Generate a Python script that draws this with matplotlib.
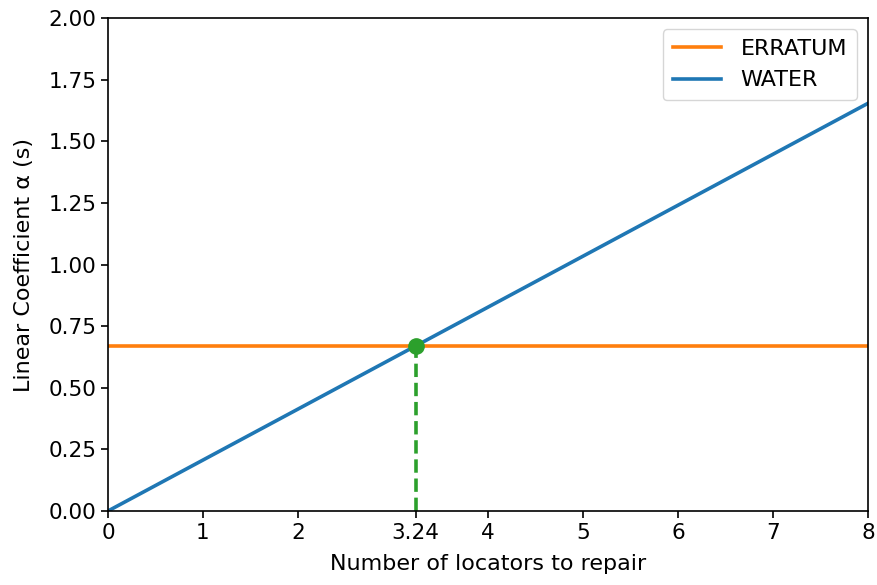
import numpy as np
import matplotlib.pyplot as plt

# values
erratum_alpha = 0.67
water_slope = 0.2068
n_locators = [0, 8]
cross_point = 3.24
x_ticks = [0, 1, 2, 3.24, 4, 5, 6, 7, 8]
x_tick_labels = ["0", "1", "2", "3.24", "4", "5", "6", "7", "8"]
y_ticks = [0.0, 0.25, 0.5, 0.75, 1.0, 1.25, 1.5, 1.75, 2.0]

fig, ax = plt.subplots(figsize=(8.78, 5.85), dpi=100)
fig.subplots_adjust(left=0.123, right=0.9886, top=0.969, bottom=0.1265)

x = np.array(n_locators, dtype=float)
ax.plot(x, [erratum_alpha] * len(x), color="tab:orange", lw=2.6, label="ERRATUM")
ax.plot(x, water_slope * x, color="tab:blue", lw=2.6, label="WATER")
ax.plot([cross_point, cross_point], [0, erratum_alpha], color="tab:green", lw=2.6, ls="--")
ax.plot(cross_point, erratum_alpha, "o", color="tab:green", ms=11)

ax.set_xlim(0, 8)
ax.set_ylim(0, 2)
ax.set_xticks(x_ticks)
ax.set_xticklabels(x_tick_labels)
ax.set_yticks(y_ticks)
ax.set_yticklabels(["%.2f" % v for v in y_ticks])
ax.tick_params(labelsize=15.5, length=5, width=1.2)
for s in ax.spines.values():
    s.set_linewidth(1.2)
ax.set_xlabel("Number of locators to repair", fontsize=16, labelpad=8)
ax.set_ylabel("Linear Coefficient α (s)", fontsize=16, labelpad=10)
ax.legend(loc="upper right", fontsize=16, borderpad=0.45, handlelength=2.2,
          handletextpad=0.85, borderaxespad=0.5)

fig.savefig("out.png", dpi=100)
